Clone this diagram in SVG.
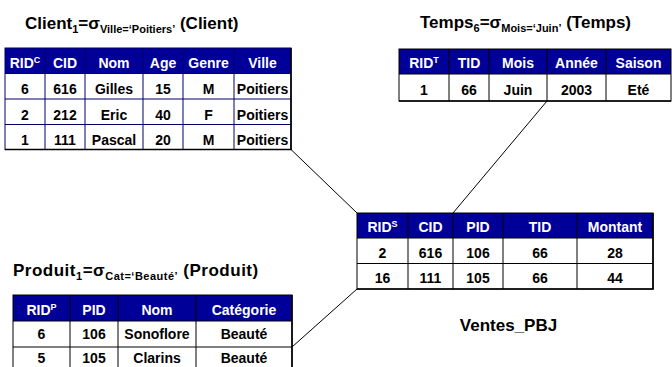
<svg xmlns="http://www.w3.org/2000/svg" width="672" height="367" viewBox="0 0 672 367">
<style>
.t{font-family:"Liberation Sans",Arial,sans-serif;font-weight:bold}
.title{font-size:17px;fill:#000}
.sub{font-size:11px}
.sup{font-size:9px}
.h{font-size:14px;fill:#fff;text-anchor:middle}
.d{font-size:14px;fill:#000;text-anchor:middle}
.hdr{fill:#000099}
.body{fill:#fff}
.grid{stroke:#000;stroke-width:1;fill:none}
.gridn{stroke:#000066;stroke-width:1;fill:none}
.out{stroke:#000;stroke-width:1.6;fill:none}
.conn{stroke:#000;stroke-width:1;fill:none}
</style>
<rect width="672" height="367" fill="#fff"/>

<g id="connectors">
<line class="conn" x1="291" y1="149.5" x2="357" y2="213"/>
<line class="conn" x1="547" y1="101" x2="453" y2="213"/>
<line class="conn" x1="292" y1="347" x2="357" y2="289"/>
</g>

<g id="client">
<text class="t title" x="25" y="29">Client<tspan class="sub" dy="4">1</tspan><tspan dy="-4">=σ</tspan><tspan class="sub" dy="4">Ville=‘Poitiers’</tspan><tspan dy="-4"> (Client)</tspan></text>
<rect class="hdr" x="5" y="48" width="286" height="25.5"/>
<rect class="body" x="5" y="73.5" width="286" height="76"/>
<path class="gridn" d="M45 48V149.5M85 48V149.5M143 48V149.5M183 48V149.5M234 48V149.5M5 73.5H291M5 99H291M5 124.5H291"/>
<rect class="gridn" x="5" y="48" width="286" height="101.5"/>
<path class="out" d="M5 149.5H291V48"/>
<text class="t h" x="25" y="67.5">RID<tspan class="sup" dy="-5">C</tspan></text>
<text class="t h" x="65" y="67.5">CID</text>
<text class="t h" x="114" y="67.5">Nom</text>
<text class="t h" x="163" y="67.5">Age</text>
<text class="t h" x="208.5" y="67.5">Genre</text>
<text class="t h" x="262.5" y="67.5">Ville</text>
<text class="t d" x="25" y="94">6</text>
<text class="t d" x="65" y="94">616</text>
<text class="t d" x="114" y="94">Gilles</text>
<text class="t d" x="163" y="94">15</text>
<text class="t d" x="208.5" y="94">M</text>
<text class="t d" x="262.5" y="94">Poitiers</text>
<text class="t d" x="25" y="119.5">2</text>
<text class="t d" x="65" y="119.5">212</text>
<text class="t d" x="114" y="119.5">Eric</text>
<text class="t d" x="163" y="119.5">40</text>
<text class="t d" x="208.5" y="119.5">F</text>
<text class="t d" x="262.5" y="119.5">Poitiers</text>
<text class="t d" x="25" y="144.5">1</text>
<text class="t d" x="65" y="144.5">111</text>
<text class="t d" x="114" y="144.5">Pascal</text>
<text class="t d" x="163" y="144.5">20</text>
<text class="t d" x="208.5" y="144.5">M</text>
<text class="t d" x="262.5" y="144.5">Poitiers</text>
</g>

<g id="temps">
<text class="t title" x="420" y="28">Temps<tspan class="sub" dy="4">6</tspan><tspan dy="-4">=σ</tspan><tspan class="sub" dy="4">Mois=‘Juin’</tspan><tspan dy="-4"> (Temps)</tspan></text>
<rect class="hdr" x="399" y="49" width="272" height="25"/>
<rect class="body" x="399" y="74" width="272" height="27"/>
<path class="grid" d="M449 49V101M489 49V101M547 49V101M606 49V101M399 74H671"/>
<rect class="grid" x="399" y="49" width="272" height="52"/>
<path class="out" d="M399 101H671"/>
<text class="t h" x="424" y="68">RID<tspan class="sup" dy="-5">T</tspan></text>
<text class="t h" x="469" y="68">TID</text>
<text class="t h" x="518" y="68">Mois</text>
<text class="t h" x="576.5" y="68">Année</text>
<text class="t h" x="638.5" y="68">Saison</text>
<text class="t d" x="424" y="95">1</text>
<text class="t d" x="469" y="95">66</text>
<text class="t d" x="518" y="95">Juin</text>
<text class="t d" x="576.5" y="95">2003</text>
<text class="t d" x="638.5" y="95">Eté</text>
</g>

<g id="ventes">
<rect class="hdr" x="357" y="213" width="296" height="25"/>
<rect class="body" x="357" y="238" width="296" height="51"/>
<path class="grid" d="M408 213V289M453 213V289M503 213V289M577 213V289M357 238H653M357 263.5H653"/>
<rect class="grid" x="357" y="213" width="296" height="76"/>
<path class="out" d="M357 289H653V213"/>
<text class="t h" x="382.5" y="232">RID<tspan class="sup" dy="-5">S</tspan></text>
<text class="t h" x="430.5" y="232">CID</text>
<text class="t h" x="478" y="232">PID</text>
<text class="t h" x="540" y="232">TID</text>
<text class="t h" x="615" y="232">Montant</text>
<text class="t d" x="382.5" y="257.5">2</text>
<text class="t d" x="430.5" y="257.5">616</text>
<text class="t d" x="478" y="257.5">106</text>
<text class="t d" x="540" y="257.5">66</text>
<text class="t d" x="615" y="257.5">28</text>
<text class="t d" x="382.5" y="283">16</text>
<text class="t d" x="430.5" y="283">111</text>
<text class="t d" x="478" y="283">105</text>
<text class="t d" x="540" y="283">66</text>
<text class="t d" x="615" y="283">44</text>
<text class="t title" x="508.5" y="331" text-anchor="middle">Ventes_PBJ</text>
</g>

<g id="produit">
<text class="t title" x="13" y="276" letter-spacing="0.5">Produit<tspan class="sub" dy="4">1</tspan><tspan dy="-4">=σ</tspan><tspan class="sub" dy="4">Cat=‘Beauté’</tspan><tspan dy="-4"> (Produit)</tspan></text>
<rect class="hdr" x="13" y="295" width="279" height="26"/>
<rect class="body" x="13" y="321" width="279" height="52"/>
<path class="grid" d="M70 295V373M118 295V373M196 295V373M13 321H292M13 347H292"/>
<rect class="grid" x="13" y="295" width="279" height="78"/>
<path class="out" d="M292 295V373"/>
<text class="t h" x="41.5" y="314.5">RID<tspan class="sup" dy="-5">P</tspan></text>
<text class="t h" x="94" y="314.5">PID</text>
<text class="t h" x="157" y="314.5">Nom</text>
<text class="t h" x="244" y="314.5">Catégorie</text>
<text class="t d" x="41.5" y="339">6</text>
<text class="t d" x="94" y="339">106</text>
<text class="t d" x="157" y="339">Sonoflore</text>
<text class="t d" x="244" y="339">Beauté</text>
<text class="t d" x="41.5" y="363">5</text>
<text class="t d" x="94" y="363">105</text>
<text class="t d" x="157" y="363">Clarins</text>
<text class="t d" x="244" y="363">Beauté</text>
</g>
</svg>
